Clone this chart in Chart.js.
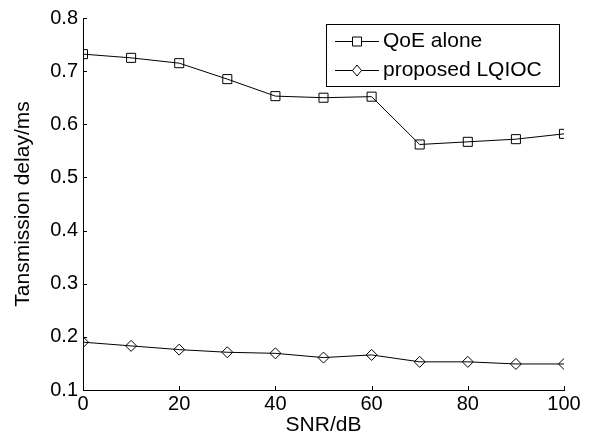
<!DOCTYPE html>
<html>
<head>
<meta charset="utf-8">
<script src="https://cdn.jsdelivr.net/npm/chart.js@4/dist/chart.umd.min.js"></script>
<style>
  html, body { margin: 0; padding: 0; background: #fff; }
  #wrap { width: 592px; height: 443px; }
</style>
</head>
<body>
<div id="wrap"><canvas id="delayChart" width="592" height="443"></canvas></div>
<script>
const snr = [0, 10, 20, 30, 40, 50, 60, 70, 80, 90, 100];
const qoeAlone = [0.732, 0.725, 0.715, 0.685, 0.653, 0.650, 0.652, 0.562, 0.567, 0.572, 0.582];
const proposedLQIOC = [0.190, 0.183, 0.176, 0.171, 0.169, 0.161, 0.166, 0.153, 0.153, 0.149, 0.149];
const seriesNames = ['QoE alone', 'proposed LQIOC'];
const xTicks = [0, 20, 40, 60, 80, 100];
const yTicks = [0.1, 0.2, 0.3, 0.4, 0.5, 0.6, 0.7, 0.8];

const FONT = '"Liberation Sans", Arial, sans-serif';

function pts(ys) {
  return snr.map((x, i) => ({ x: x, y: ys[i] }));
}

// small inward tick marks, matlab style
const innerTicks = {
  id: 'innerTicks',
  afterDraw(chart) {
    const { ctx, chartArea, scales } = chart;
    ctx.save();
    ctx.strokeStyle = '#000';
    ctx.lineWidth = 1;
    ctx.beginPath();
    yTicks.forEach(v => {
      const y = Math.round(scales.y.getPixelForValue(v)) + 0.5;
      ctx.moveTo(chartArea.left, y);
      ctx.lineTo(chartArea.left + 4, y);
    });
    xTicks.forEach(v => {
      const x = Math.round(scales.x.getPixelForValue(v)) + 0.5;
      ctx.moveTo(x, chartArea.bottom);
      ctx.lineTo(x, chartArea.bottom - 4);
    });
    ctx.stroke();
    ctx.restore();
  }
};

// boxed legend with line + marker samples
const boxLegend = {
  id: 'boxLegend',
  afterDraw(chart) {
    const ctx = chart.ctx;
    const box = { x: 326.5, y: 24.5, w: 233, h: 62 };
    ctx.save();
    ctx.fillStyle = '#fff';
    ctx.fillRect(box.x, box.y, box.w, box.h);
    ctx.strokeStyle = '#000';
    ctx.lineWidth = 1;
    ctx.strokeRect(box.x, box.y, box.w, box.h);
    ctx.font = '21px ' + FONT;
    ctx.textBaseline = 'middle';
    ctx.fillStyle = '#000';
    chart.data.datasets.forEach((ds, i) => {
      const y = 41.5 + i * 29;
      ctx.beginPath();
      ctx.moveTo(335, y);
      ctx.lineTo(379, y);
      ctx.stroke();
      ctx.beginPath();
      const mx = 357;
      if (ds.pointStyle === 'rect') {
        ctx.rect(mx - 4.5, y - 4.5, 9, 9);
      } else {
        ctx.moveTo(mx, y - 5.5);
        ctx.lineTo(mx + 4.5, y);
        ctx.lineTo(mx, y + 5.5);
        ctx.lineTo(mx - 4.5, y);
        ctx.closePath();
      }
      ctx.fillStyle = '#fff';
      ctx.fill();
      ctx.stroke();
      ctx.fillStyle = '#000';
      ctx.fillText(ds.label, 383, y);
    });
    ctx.restore();
  }
};

new Chart(document.getElementById('delayChart'), {
  type: 'line',
  data: {
    datasets: [
      {
        label: seriesNames[0],
        data: pts(qoeAlone),
        borderColor: '#000',
        borderWidth: 1,
        pointStyle: 'rect',
        pointRadius: 6.4,
        pointBorderColor: '#000',
        pointBackgroundColor: 'rgba(0,0,0,0)',
        pointBorderWidth: 1,
        fill: false,
        tension: 0
      },
      {
        label: seriesNames[1],
        data: pts(proposedLQIOC),
        borderColor: '#000',
        borderWidth: 1,
        pointStyle: 'rectRot',
        pointRadius: 5.5,
        pointBorderColor: '#000',
        pointBackgroundColor: 'rgba(0,0,0,0)',
        pointBorderWidth: 1,
        fill: false,
        tension: 0
      }
    ]
  },
  options: {
    responsive: false,
    animation: false,
    layout: { padding: { left: 0, right: 28, top: 18, bottom: 0 } },
    plugins: {
      legend: { display: false },
      tooltip: { enabled: false }
    },
    scales: {
      x: {
        type: 'linear',
        min: 0,
        max: 100,
        afterBuildTicks: s => { s.ticks = xTicks.map(v => ({ value: v })); },
        afterFit: s => { s.height = 53; },
        grid: { display: false, drawTicks: false },
        border: { display: true, color: '#000', width: 1 },
        ticks: { color: '#000', padding: 2, font: { family: FONT, size: 20 } },
        title: {
          display: true,
          text: 'SNR/dB',
          color: '#000',
          font: { family: FONT, size: 21 },
          padding: { top: 0, bottom: 5 }
        }
      },
      y: {
        min: 0.1,
        max: 0.8,
        afterBuildTicks: s => { s.ticks = yTicks.map(v => ({ value: v })); },
        afterFit: s => { s.width = 83; },
        grid: { display: false, drawTicks: false },
        border: { display: true, color: '#000', width: 1 },
        ticks: {
          color: '#000',
          padding: 5,
          font: { family: FONT, size: 20 },
          callback: v => v.toFixed(1)
        },
        title: {
          display: true,
          text: 'Tansmission delay/ms',
          color: '#000',
          font: { family: FONT, size: 21 },
          padding: { top: 11, bottom: 0 }
        }
      }
    }
  },
  plugins: [innerTicks, boxLegend]
});
</script>
</body>
</html>
